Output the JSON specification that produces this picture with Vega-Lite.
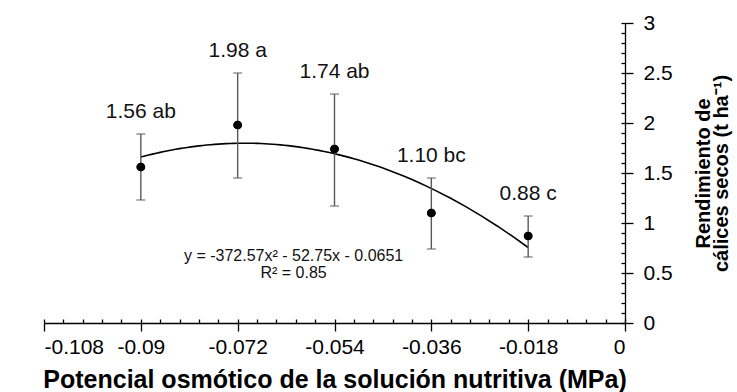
{
  "$schema": "https://vega.github.io/schema/vega-lite/v6.json",
  "width": 581,
  "height": 300,
  "autosize": {"type": "none"},
  "padding": {"left": 44, "top": 23, "right": 112, "bottom": 69},
  "background": "white",
  "config": {
    "view": {"stroke": null},
    "font": "Liberation Sans",
    "axis": {"grid": false, "labelFont": "Liberation Sans", "titleFont": "Liberation Sans", "labelColor": "#000", "titleColor": "#000", "domainColor": "#000", "tickColor": "#000"}
  },
  "data": {
    "values": [
      {"potencial": -0.09, "rendimiento": 1.56, "inferior": 1.23, "superior": 1.89, "etiqueta": "1.56 ab"},
      {"potencial": -0.072, "rendimiento": 1.98, "inferior": 1.45, "superior": 2.50, "etiqueta": "1.98 a"},
      {"potencial": -0.054, "rendimiento": 1.74, "inferior": 1.17, "superior": 2.29, "etiqueta": "1.74 ab"},
      {"potencial": -0.036, "rendimiento": 1.10, "inferior": 0.74, "superior": 1.45, "etiqueta": "1.10 bc"},
      {"potencial": -0.018, "rendimiento": 0.87, "inferior": 0.66, "superior": 1.07, "etiqueta": "0.88 c"}
    ]
  },
  "resolve": {"axis": {"x": "independent", "y": "independent"}},
  "layer": [
    {
      "mark": {"type": "circle", "size": 75, "color": "#000", "opacity": 1},
      "encoding": {
        "x": {
          "field": "potencial", "type": "quantitative",
          "scale": {"domain": [-0.108, 0], "nice": false, "zero": false},
          "axis": {
            "orient": "bottom",
            "values": [-0.108, -0.09, -0.072, -0.054, -0.036, -0.018, 0],
            "labelExpr": "datum.value == 0 ? '0' : '-' + format(abs(datum.value), '.3~f')",
            "tickSize": 8, "tickWidth": 1.3, "domainWidth": 1.3,
            "labelFontSize": 21, "labelPadding": 5,
            "title": "Potencial osmótico de la solución nutritiva (MPa)",
            "titleFontSize": 25, "titleFontWeight": "bold", "titlePadding": 10
          }
        },
        "y": {
          "field": "rendimiento", "type": "quantitative",
          "scale": {"domain": [0, 3], "nice": false},
          "axis": {
            "orient": "right",
            "values": [0, 0.5, 1, 1.5, 2, 2.5, 3],
            "labelExpr": "format(datum.value, '~g')",
            "tickSize": 8, "tickWidth": 1.3, "domainWidth": 1.3,
            "labelFontSize": 21, "labelPadding": 10,
            "title": ["Rendimiento de", "cálices secos (t ha⁻¹)"],
            "titleAngle": -90, "titleFontSize": 20, "titleFontWeight": "bold",
            "titlePadding": 3, "titleBaseline": "top", "titleLineHeight": 18
          }
        }
      }
    },
    {
      "transform": [
        {"regression": "rendimiento", "on": "potencial", "method": "poly", "order": 2, "extent": [-0.09, -0.018]}
      ],
      "mark": {"type": "line", "color": "#000", "strokeWidth": 1.6},
      "encoding": {
        "x": {
          "field": "potencial", "type": "quantitative",
          "axis": {
            "orient": "bottom",
            "values": [-0.108, -0.1044, -0.1008, -0.0972, -0.0936, -0.09, -0.0864, -0.0828, -0.0792, -0.0756, -0.072, -0.0684, -0.0648, -0.0612, -0.0576, -0.054, -0.0504, -0.0468, -0.0432, -0.0396, -0.036, -0.0324, -0.0288, -0.0252, -0.0216, -0.018, -0.0144, -0.0108, -0.0072, -0.0036, 0],
            "tickSize": -4, "tickWidth": 1.3, "domain": false, "labels": false, "title": null
          }
        },
        "y": {
          "field": "rendimiento", "type": "quantitative",
          "axis": {
            "orient": "right",
            "values": [0, 0.1, 0.2, 0.3, 0.4, 0.5, 0.6, 0.7, 0.8, 0.9, 1, 1.1, 1.2, 1.3, 1.4, 1.5, 1.6, 1.7, 1.8, 1.9, 2, 2.1, 2.2, 2.3, 2.4, 2.5, 2.6, 2.7, 2.8, 2.9, 3],
            "tickSize": -4, "tickWidth": 1.3, "domain": false, "labels": false, "title": null
          }
        }
      }
    },
    {
      "mark": {"type": "rule", "color": "#5a5a5a", "strokeWidth": 1.4},
      "encoding": {
        "x": {"field": "potencial", "type": "quantitative", "axis": null},
        "y": {"field": "inferior", "type": "quantitative", "axis": null},
        "y2": {"field": "superior"}
      }
    },
    {
      "mark": {"type": "tick", "color": "#5a5a5a", "orient": "horizontal", "size": 9, "thickness": 1.4},
      "encoding": {
        "x": {"field": "potencial", "type": "quantitative", "axis": null},
        "y": {"field": "inferior", "type": "quantitative", "axis": null}
      }
    },
    {
      "mark": {"type": "tick", "color": "#5a5a5a", "orient": "horizontal", "size": 9, "thickness": 1.4},
      "encoding": {
        "x": {"field": "potencial", "type": "quantitative", "axis": null},
        "y": {"field": "superior", "type": "quantitative", "axis": null}
      }
    },
    {
      "mark": {"type": "circle", "size": 75, "color": "#000", "opacity": 1},
      "encoding": {
        "x": {"field": "potencial", "type": "quantitative", "axis": null},
        "y": {"field": "rendimiento", "type": "quantitative", "axis": null}
      }
    },
    {
      "mark": {"type": "text", "fontSize": 21, "color": "#111", "dy": -22, "baseline": "middle"},
      "encoding": {
        "x": {"field": "potencial", "type": "quantitative", "axis": null},
        "y": {"field": "superior", "type": "quantitative", "axis": null},
        "text": {"field": "etiqueta"}
      }
    },
    {
      "data": {"values": [{"ecuacion": "y = -372.57x² - 52.75x - 0.0651", "r2": "R² = 0.85"}]},
      "mark": {"type": "text", "fontSize": 16, "fontWeight": "normal", "color": "#111", "align": "center", "baseline": "middle", "lineHeight": 17},
      "encoding": {
        "x": {"datum": -0.0616, "type": "quantitative", "axis": null},
        "y": {"datum": 0.675, "type": "quantitative", "axis": null},
        "text": {"value": ["y = -372.57x² - 52.75x - 0.0651", "R² = 0.85"]}
      }
    }
  ]
}
